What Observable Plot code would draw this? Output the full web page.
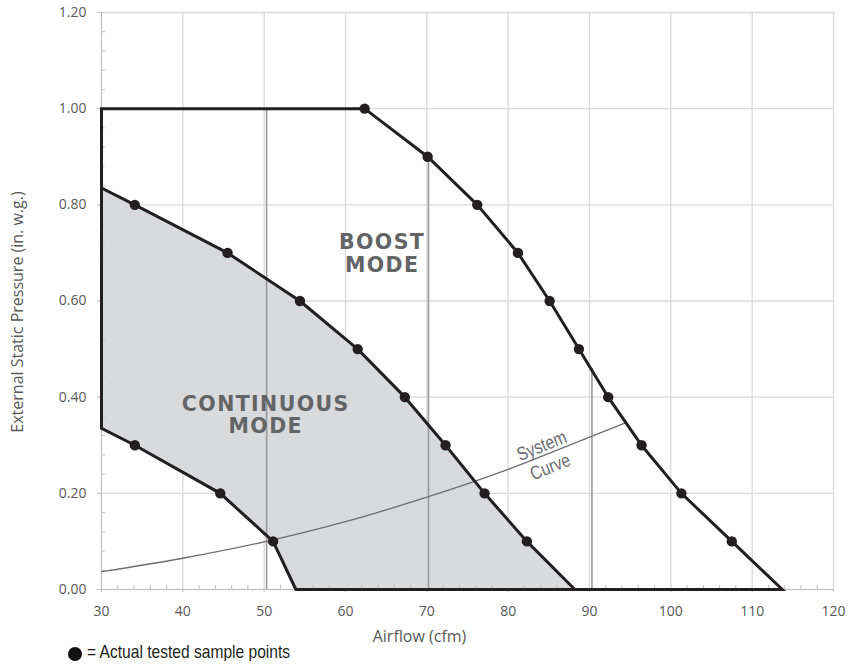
<!DOCTYPE html>
<html>
<head>
<meta charset="utf-8">
<script src="https://cdn.jsdelivr.net/npm/d3@7"></script>
<script src="https://cdn.jsdelivr.net/npm/@observablehq/plot@0.6"></script>
<style>
  html, body { margin: 0; padding: 0; background: #fff; }
  #legend { height: 19px; margin-top: -4px; display: flex; align-items: center; padding-left: 68px; white-space: nowrap;
    font-family: "Liberation Sans", Arial, sans-serif; font-size: 19px; color: #231f20; }
  #legend svg { margin-right: 5px; flex: none; position: relative; top: 2px; }
  #legend span { display: inline-block; transform: scaleX(0.82); transform-origin: left center; }
</style>
</head>
<body>
<div id="chart"></div>
<div id="legend"><svg width="14" height="14"><circle cx="7" cy="7" r="7" fill="#111"></circle></svg><span>= Actual tested sample points</span></div>
<script>
// ---- data ----
const xTicks = [30, 40, 50, 60, 70, 80, 90, 100, 110, 120];
const yTicks = [0, 0.2, 0.4, 0.6, 0.8, 1.0, 1.2];
const xMinorTicks = [32,34,36,38,42,44,46,48,52,54,56,58,62,64,66,68,72,74,76,78,82,84,86,88,92,94,96,98,102,104,106,108,112,114,116,118];
const yMinorTicks = [0.04,0.08,0.12,0.16,0.24,0.28,0.32,0.36,0.44,0.48,0.52,0.56,0.64,0.68,0.72,0.76,0.84,0.88,0.92,0.96,1.04,1.08,1.12,1.16];

// Continuous mode upper boundary (first and last are end points, the rest tested)
const contUpperCfm  = [30,    34.1, 45.5, 54.4, 61.5, 67.3, 72.3, 77.1, 82.3, 88.2];
const contUpperPres = [0.835, 0.80, 0.70, 0.60, 0.50, 0.40, 0.30, 0.20, 0.10, 0.00];
// Continuous mode lower boundary
const contLowerCfm  = [30,    34.1, 44.6, 51.1, 53.9];
const contLowerPres = [0.335, 0.30, 0.20, 0.10, 0.00];
// Boost mode boundary
const boostCfm  = [30,   62.35, 70.1, 76.2, 81.2, 85.1, 88.7, 92.3, 96.4, 101.3, 107.5, 113.7];
const boostPres = [1.00, 1.00,  0.90, 0.80, 0.70, 0.60, 0.50, 0.40, 0.30, 0.20,  0.10,  0.00];
// Speed setting lines
const speedCfm = [50.3, 70.2, 90.3];
const speedTop = [1.00, 0.90, 0.46];
// System curve
const systemCfm  = [30,    40,    50,    60,    70,    80,    90,    94.5];
const systemPres = [0.037, 0.065, 0.099, 0.141, 0.192, 0.250, 0.317, 0.347];
// Labels
const modeLabels = ["BOOST\nMODE", "CONTINUOUS\nMODE"];
const modeLabelCfm = [64.5, 50.2];
const modeLabelPres = [0.699, 0.363];
const systemLabel = "System\nCurve";
const systemLabelCfm = 84.6;
const systemLabelPres = 0.279;
const xTitle = "Airflow (cfm)";
const yTitle = "External Static Pressure (in. w.g.)";

// ---- build tables ----
const pts = (xs, ys) => xs.map((x, i) => ({x, y: ys[i]}));
const contUpper = pts(contUpperCfm, contUpperPres);
const contLower = pts(contLowerCfm, contLowerPres);
const boost = pts(boostCfm, boostPres);
const contFill = [...contUpper, ...contLower.slice().reverse()];
const outline = [...contLower.slice().reverse(), ...boost, contLower[contLower.length - 1]];
const tested = [...contUpper.slice(1, -1), ...contLower.slice(1, -1), ...boost.slice(1, -1)];
const speeds = speedCfm.map((x, i) => ({x, top: speedTop[i]}));
const system = pts(systemCfm, systemPres);
const modes = modeLabels.map((t, i) => ({t, x: modeLabelCfm[i], y: modeLabelPres[i]}));

const ink = "#231f20";
const chart = Plot.plot({
  width: 849, height: 646,
  marginLeft: 101, marginRight: 16, marginTop: 12, marginBottom: 57,
  x: {domain: [30, 120]},
  y: {domain: [0, 1.2]},
  style: {fontFamily: "'Open Sans', sans-serif", fontSize: "14px", color: "#595959", background: "#fff"},
  marks: [
    Plot.gridX(xTicks, {stroke: "#dadada", strokeOpacity: 1, strokeWidth: 1.3}),
    Plot.gridY(yTicks, {stroke: "#dadada", strokeOpacity: 1, strokeWidth: 1.3}),
    Plot.line(contFill, {x: "x", y: "y", fill: "#d9dadc", stroke: "none"}),
    Plot.ruleX(speeds, {x: "x", y1: 0, y2: "top", stroke: "#9a9a9c", strokeWidth: 1.6}),
    Plot.ruleX([30], {stroke: "#bfbfbf"}),
    Plot.ruleY([0], {stroke: "#bfbfbf"}),
    Plot.axisY(yTicks, {tickFormat: d3.format(".2f"), tickSize: 4, tickPadding: 11, label: null, stroke: "#bfbfbf", fill: "#595959", fontSize: 14}),
    Plot.axisY(yMinorTicks, {tickFormat: () => "", tickSize: 4, dx: 4, label: null, stroke: "#bfbfbf"}),
    Plot.axisX(xTicks, {tickSize: 3, tickPadding: 14, label: null, stroke: "#bfbfbf", fill: "#595959", fontSize: 14}),
    Plot.axisX(xMinorTicks, {tickFormat: () => "", tickSize: 4, dy: -4, label: null, stroke: "#bfbfbf"}),
    Plot.line(system, {x: "x", y: "y", curve: "catmull-rom", stroke: "#6d6e71", strokeWidth: 1.3}),
    Plot.line(outline, {x: "x", y: "y", stroke: ink, strokeWidth: 3, strokeLinejoin: "miter", strokeMiterlimit: 4}),
    Plot.line(contUpper, {x: "x", y: "y", stroke: ink, strokeWidth: 3}),
    Plot.dot(tested, {x: "x", y: "y", r: 5.2, fill: ink, stroke: "none"}),
    Plot.text(modes, {x: "x", y: "y", text: "t", ariaLabel: () => "mode-label", fontFamily: "'DejaVu Sans', sans-serif", fontWeight: "bold", fontSize: 20.5, lineHeight: 1.1, fill: "#636466"}),
    Plot.text([systemLabel], {x: () => systemLabelCfm, y: () => systemLabelPres, text: d => d, rotate: -22, ariaLabel: () => "system-label", fontFamily: "'Liberation Sans', Arial, sans-serif", fontSize: 19, lineHeight: 1.2, fill: "#6d6e71"}),
    Plot.text([xTitle], {frameAnchor: "bottom", textAnchor: "middle", lineAnchor: "middle", text: d => d, dx: -48, dy: 47, fontSize: 16, fill: "#595959"}),
    Plot.text([yTitle], {frameAnchor: "left", textAnchor: "middle", lineAnchor: "middle", text: d => d, rotate: -90, dx: -84, dy: 11, fontSize: 16, fill: "#595959"})
  ]
});
document.getElementById("chart").appendChild(chart);
d3.select(chart).selectAll("[aria-label='mode-label']").style("letter-spacing", "1.4px");
d3.select(chart).selectAll("text[aria-label='system-label']").attr("transform", function () {
  return (this.getAttribute("transform") || "") + " scale(0.82,1)";
});
</script>
</body>
</html>
